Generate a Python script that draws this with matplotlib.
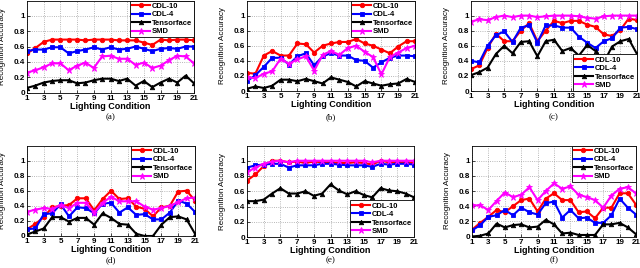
import matplotlib
matplotlib.use("Agg")
import matplotlib.pyplot as plt
import numpy as np

conditions = list(range(1, 22))
series_names = ["CDL-10", "CDL-4", "Tensorface", "SMD"]

a_cdl10 = [0.51, 0.58, 0.66, 0.69, 0.69, 0.69, 0.69, 0.68, 0.69, 0.69, 0.69, 0.68, 0.68, 0.68, 0.65, 0.62, 0.69, 0.68, 0.69, 0.69, 0.68]
a_cdl4 = [0.54, 0.56, 0.56, 0.59, 0.59, 0.51, 0.54, 0.56, 0.59, 0.56, 0.59, 0.56, 0.57, 0.60, 0.57, 0.54, 0.57, 0.58, 0.57, 0.60, 0.60]
a_tensor = [0.06, 0.09, 0.13, 0.15, 0.16, 0.16, 0.12, 0.13, 0.16, 0.18, 0.18, 0.15, 0.18, 0.09, 0.15, 0.07, 0.13, 0.18, 0.13, 0.22, 0.12]
a_smd = [0.26, 0.29, 0.33, 0.38, 0.38, 0.29, 0.35, 0.39, 0.32, 0.47, 0.48, 0.44, 0.44, 0.36, 0.39, 0.32, 0.35, 0.42, 0.48, 0.47, 0.38]

b_cdl10 = [0.24, 0.23, 0.47, 0.53, 0.47, 0.47, 0.63, 0.62, 0.51, 0.60, 0.63, 0.65, 0.65, 0.69, 0.63, 0.60, 0.55, 0.50, 0.59, 0.66, 0.66]
b_cdl4 = [0.13, 0.21, 0.32, 0.44, 0.44, 0.35, 0.46, 0.50, 0.34, 0.46, 0.50, 0.47, 0.47, 0.41, 0.40, 0.31, 0.38, 0.44, 0.47, 0.47, 0.46]
b_tensor = [0.03, 0.06, 0.04, 0.07, 0.15, 0.15, 0.13, 0.16, 0.13, 0.10, 0.18, 0.15, 0.12, 0.06, 0.13, 0.10, 0.07, 0.09, 0.10, 0.16, 0.12]
b_smd = [0.18, 0.17, 0.23, 0.26, 0.43, 0.36, 0.42, 0.46, 0.27, 0.48, 0.53, 0.48, 0.57, 0.60, 0.52, 0.45, 0.22, 0.45, 0.51, 0.57, 0.60]

c_cdl10 = [0.29, 0.34, 0.57, 0.76, 0.66, 0.66, 0.80, 0.90, 0.66, 0.80, 0.93, 0.90, 0.93, 0.93, 0.88, 0.85, 0.75, 0.73, 0.81, 0.96, 0.94]
c_cdl4 = [0.40, 0.38, 0.60, 0.74, 0.79, 0.65, 0.84, 0.87, 0.64, 0.87, 0.87, 0.84, 0.84, 0.72, 0.64, 0.57, 0.66, 0.70, 0.84, 0.85, 0.82]
c_tensor = [0.21, 0.25, 0.31, 0.49, 0.60, 0.50, 0.65, 0.66, 0.46, 0.66, 0.68, 0.53, 0.57, 0.47, 0.61, 0.53, 0.38, 0.59, 0.66, 0.69, 0.49]
c_smd = [0.92, 0.95, 0.94, 0.98, 1.00, 0.98, 1.00, 1.00, 0.98, 0.99, 1.00, 1.00, 1.00, 0.99, 0.97, 0.96, 0.99, 1.00, 1.00, 1.00, 1.00]

d_cdl10 = [0.09, 0.16, 0.25, 0.38, 0.40, 0.41, 0.50, 0.50, 0.34, 0.49, 0.60, 0.49, 0.50, 0.39, 0.36, 0.26, 0.38, 0.40, 0.59, 0.60, 0.47]
d_cdl4 = [0.09, 0.10, 0.29, 0.30, 0.42, 0.26, 0.38, 0.37, 0.30, 0.43, 0.44, 0.31, 0.38, 0.28, 0.29, 0.22, 0.22, 0.31, 0.47, 0.43, 0.32]
d_tensor = [0.02, 0.06, 0.10, 0.25, 0.25, 0.19, 0.24, 0.24, 0.15, 0.30, 0.24, 0.16, 0.15, 0.03, 0.00, 0.00, 0.15, 0.25, 0.26, 0.22, 0.03]
d_smd = [0.32, 0.35, 0.37, 0.36, 0.41, 0.37, 0.44, 0.44, 0.31, 0.44, 0.52, 0.46, 0.46, 0.46, 0.39, 0.35, 0.37, 0.40, 0.45, 0.50, 0.51]

e_cdl10 = [0.74, 0.82, 0.93, 1.00, 1.00, 0.98, 0.99, 0.97, 0.99, 0.98, 0.98, 0.97, 0.97, 0.98, 0.97, 0.95, 1.00, 0.98, 0.98, 0.98, 0.97]
e_cdl4 = [0.91, 0.94, 0.95, 0.96, 0.96, 0.91, 0.94, 0.94, 0.94, 0.96, 0.96, 0.95, 0.94, 0.94, 0.94, 0.92, 0.96, 0.95, 0.96, 0.96, 0.95]
e_tensor = [0.47, 0.47, 0.49, 0.57, 0.64, 0.57, 0.57, 0.60, 0.54, 0.57, 0.69, 0.61, 0.56, 0.60, 0.55, 0.52, 0.64, 0.61, 0.60, 0.57, 0.52]
e_smd = [0.85, 0.91, 0.96, 0.99, 1.00, 0.98, 1.00, 1.00, 1.00, 1.00, 1.00, 1.00, 1.00, 1.00, 1.00, 0.98, 1.00, 1.00, 1.00, 1.00, 1.00]

f_cdl10 = [0.09, 0.18, 0.26, 0.35, 0.32, 0.40, 0.48, 0.50, 0.33, 0.50, 0.57, 0.48, 0.48, 0.32, 0.33, 0.24, 0.38, 0.38, 0.57, 0.57, 0.42]
f_cdl4 = [0.08, 0.15, 0.26, 0.28, 0.35, 0.28, 0.38, 0.32, 0.29, 0.44, 0.46, 0.25, 0.35, 0.24, 0.25, 0.18, 0.18, 0.28, 0.50, 0.38, 0.29]
f_tensor = [0.00, 0.01, 0.04, 0.17, 0.12, 0.15, 0.16, 0.12, 0.13, 0.22, 0.16, 0.04, 0.05, 0.02, 0.02, 0.02, 0.16, 0.16, 0.18, 0.12, 0.03]
f_smd = [0.41, 0.41, 0.35, 0.47, 0.58, 0.52, 0.55, 0.65, 0.48, 0.60, 0.70, 0.63, 0.66, 0.55, 0.52, 0.48, 0.38, 0.54, 0.63, 0.65, 0.57]

panel_labels = ["(a)", "(b)", "(c)", "(d)", "(e)", "(f)"]
panels = [
    (a_cdl10, a_cdl4, a_tensor, a_smd),
    (b_cdl10, b_cdl4, b_tensor, b_smd),
    (c_cdl10, c_cdl4, c_tensor, c_smd),
    (d_cdl10, d_cdl4, d_tensor, d_smd),
    (e_cdl10, e_cdl4, e_tensor, e_smd),
    (f_cdl10, f_cdl4, f_tensor, f_smd),
]
xticks = list(range(1, 22, 2))
yticks = [0, 0.2, 0.4, 0.6, 0.8, 1]
ytick_labels = ["0", "0.2", "0.4", "0.6", "0.8", "1"]

W, H = 640, 268
# pixel boxes: left, right, top, bottom (from image top)
boxes = [
    (27, 194, 0.5, 92.5),
    (247, 415, 0.5, 91),
    (471, 637, 0.5, 91),
    (27, 195, 145.5, 236),
    (247, 414, 145.5, 237),
    (472, 636, 145.5, 236.5),
]
legend_locs = ["upper right", "upper right", "lower right", "upper right", "lower right", "upper right"]

styles = [
    dict(color="#ff0000", marker="o", markersize=3.2),
    dict(color="#0000ff", marker="s", markersize=3.0),
    dict(color="#000000", marker="^", markersize=3.2),
    dict(color="#ff00ff", marker="*", markersize=4.5),
]

bold = dict(family=["Liberation Sans", "DejaVu Sans"], weight="bold")

fig = plt.figure(figsize=(W / 100, H / 100), dpi=100)
for i, (vals, box) in enumerate(zip(panels, boxes)):
    l, r, t, b = box
    ax = fig.add_axes([l / W, 1 - b / H, (r - l) / W, (b - t) / H])
    for name, v, st in zip(series_names, vals, styles):
        ax.plot(conditions, v, label=name, linewidth=1.5, markeredgewidth=0.6,
                markeredgecolor=st["color"], markerfacecolor=st["color"],
                color=st["color"], marker=st["marker"], markersize=st["markersize"])
    ax.set_xlim(1, 21)
    ax.set_ylim(0, 1.2)
    ax.set_xticks(xticks)
    ax.set_xticklabels([str(x) for x in xticks], fontsize=5.8, **bold)
    ax.set_yticks(yticks)
    ax.set_yticklabels(ytick_labels, fontsize=5.8, **bold)
    ax.tick_params(direction="in", length=2, width=0.5, pad=1.5)
    ax.grid(True, linestyle=":", color="#a0a0a0", linewidth=0.6)
    for s in ax.spines.values():
        s.set_linewidth(0.6)
    ax.set_xlabel("Lighting Condition", fontsize=6.5, labelpad=0, **bold)
    ax.set_ylabel("Recognition Accuracy", fontsize=5.8,
                  family=["Liberation Sans", "DejaVu Sans"])
    ax.yaxis.set_label_coords(-21 / (r - l), 0.5)
    leg = ax.legend(loc=legend_locs[i], bbox_to_anchor=(1, 0) if legend_locs[i] == "lower right" else (1, 1),
                    borderaxespad=0, fancybox=False, framealpha=1, edgecolor="black",
                    prop=dict(family=["Liberation Sans", "DejaVu Sans"], weight="bold", size=5.5),
                    handlelength=2.3, handletextpad=0.3, labelspacing=0.15, borderpad=0.25)
    leg.get_frame().set_linewidth(0.6)
    cy = 117 if i < 3 else 260
    fig.text((l + r) / 2 / W, 1 - cy / H, panel_labels[i], ha="center", va="center",
             fontsize=6.5, family=["Liberation Serif", "DejaVu Serif"])

fig.savefig("out.png", dpi=100)
